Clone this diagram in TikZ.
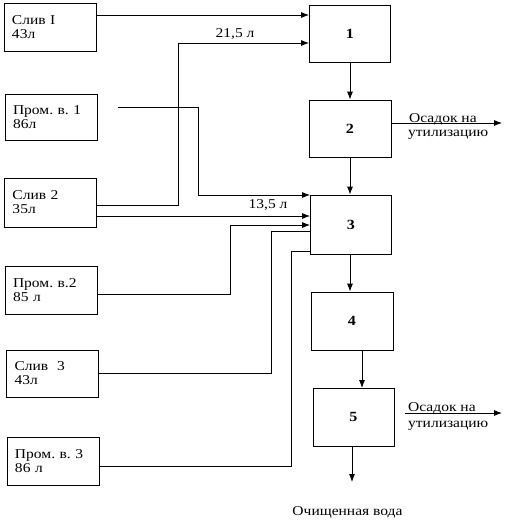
\documentclass[tikz,border=0pt]{standalone}
\usepackage{fontspec}
\setmainfont[FakeStretch=1.15]{Liberation Serif}
\usetikzlibrary{arrows.meta}
\begin{document}
\frenchspacing
\begin{tikzpicture}[x=1pt,y=-1pt,
  every node/.style={font=\fontsize{13.5}{14}\selectfont},
  src/.style={draw,line width=0.8pt,minimum width=92pt,text width=76pt,inner xsep=8pt,inner ysep=0pt,align=left},
  stage/.style={draw,line width=0.8pt,minimum width=81pt,minimum height=58pt,inner sep=0pt,font=\fontsize{14}{14}\selectfont\bfseries},
  lbl/.style={inner sep=0pt,anchor=base west},
  conn/.style={line width=0.8pt},
  arr/.style={conn,-{Latex[length=8pt,width=6pt]}}
]
\useasboundingbox (0,0) rectangle (505,520);
% source boxes
\node[src,minimum height=48pt] (s1) at (50,27) {Слив I\\43л};
\node[src,minimum height=46pt] (p1) at (51,117) {Пром. в. 1\\86л};
\node[src,minimum height=49pt] (s2) at (50.5,202.5) {Слив 2\\35л};
\node[src,minimum height=48pt] (p2) at (51,290) {Пром. в.2\\85 л};
\node[src,minimum height=47pt] (s3) at (52.5,373.5) {Слив~~3\\43л};
\node[src,minimum height=48pt] (p3) at (53,461) {Пром. в. 3\\86 л};
% stages
\node[stage,minimum height=57pt] (b1) at (350,33.5) {1};
\node[stage,minimum width=82pt,minimum height=57pt] (b2) at (350,128.5) {2};
\node[stage,minimum height=59pt] (b3) at (351,224.5) {3};
\node[stage,minimum width=82pt] (b4) at (352,321) {4};
\node[stage] (b5) at (353.5,417) {5};
% chain
\draw[arr] (b1.south) -- (b2.north);
\draw[arr] (b2.south) -- (b2.south |- b3.north);
\draw[arr] (b3.south -| b2.south) -- (b2.south |- b4.north);
\draw[arr] (362,350) -- (362,388);
\coordinate (out) at (352,482);
\draw[arr] (b5.south -| out) -- (out);
\node[inner sep=0pt] (water) at (347.5,512) {Очищенная вода};
% sludge outputs
\coordinate (o2) at (502,123);
\draw[arr] (b2.east |- o2) -- (o2);
\node[lbl] (o2a) at (409,122) {Осадок на};
\node[lbl] (o2b) at (408,136) {утилизацию};
\coordinate (o5s) at (405,413);
\coordinate (o5) at (502,413);
\draw[arr] (o5s) -- (o5);
\node[lbl] (o5a) at (408,411) {Осадок на};
\node[lbl] (o5b) at (408,427) {утилизацию};
% inputs to 1
\draw[arr] (s1.east |- 0,15) -- (b1.west |- 0,15);
\draw[arr] (s2.east |- 0,205) -| (178,43) -- (b1.west |- 0,43);
\node[inner sep=0pt] (l215) at (235,34) {21,5 л};
% inputs to 3
\coordinate (p1s) at (118,107);
\draw[arr] (p1s) -| (198,195) -- (b3.west |- 0,195);
\draw[arr] (s2.east |- 0,216) -- (b3.west |- 0,216);
\node[inner sep=0pt] (l135) at (268,205) {13,5 л};
\draw[arr] (p2.east |- 0,294) -| (230,225) -- (b3.west |- 0,225);
\draw[conn] (s3.east |- 0,373) -| (271,231) -- (b3.west |- 0,231);
\draw[conn] (p3.east |- 0,466) -| (291,251) -- (b3.west |- 0,251);
\end{tikzpicture}
\end{document}
